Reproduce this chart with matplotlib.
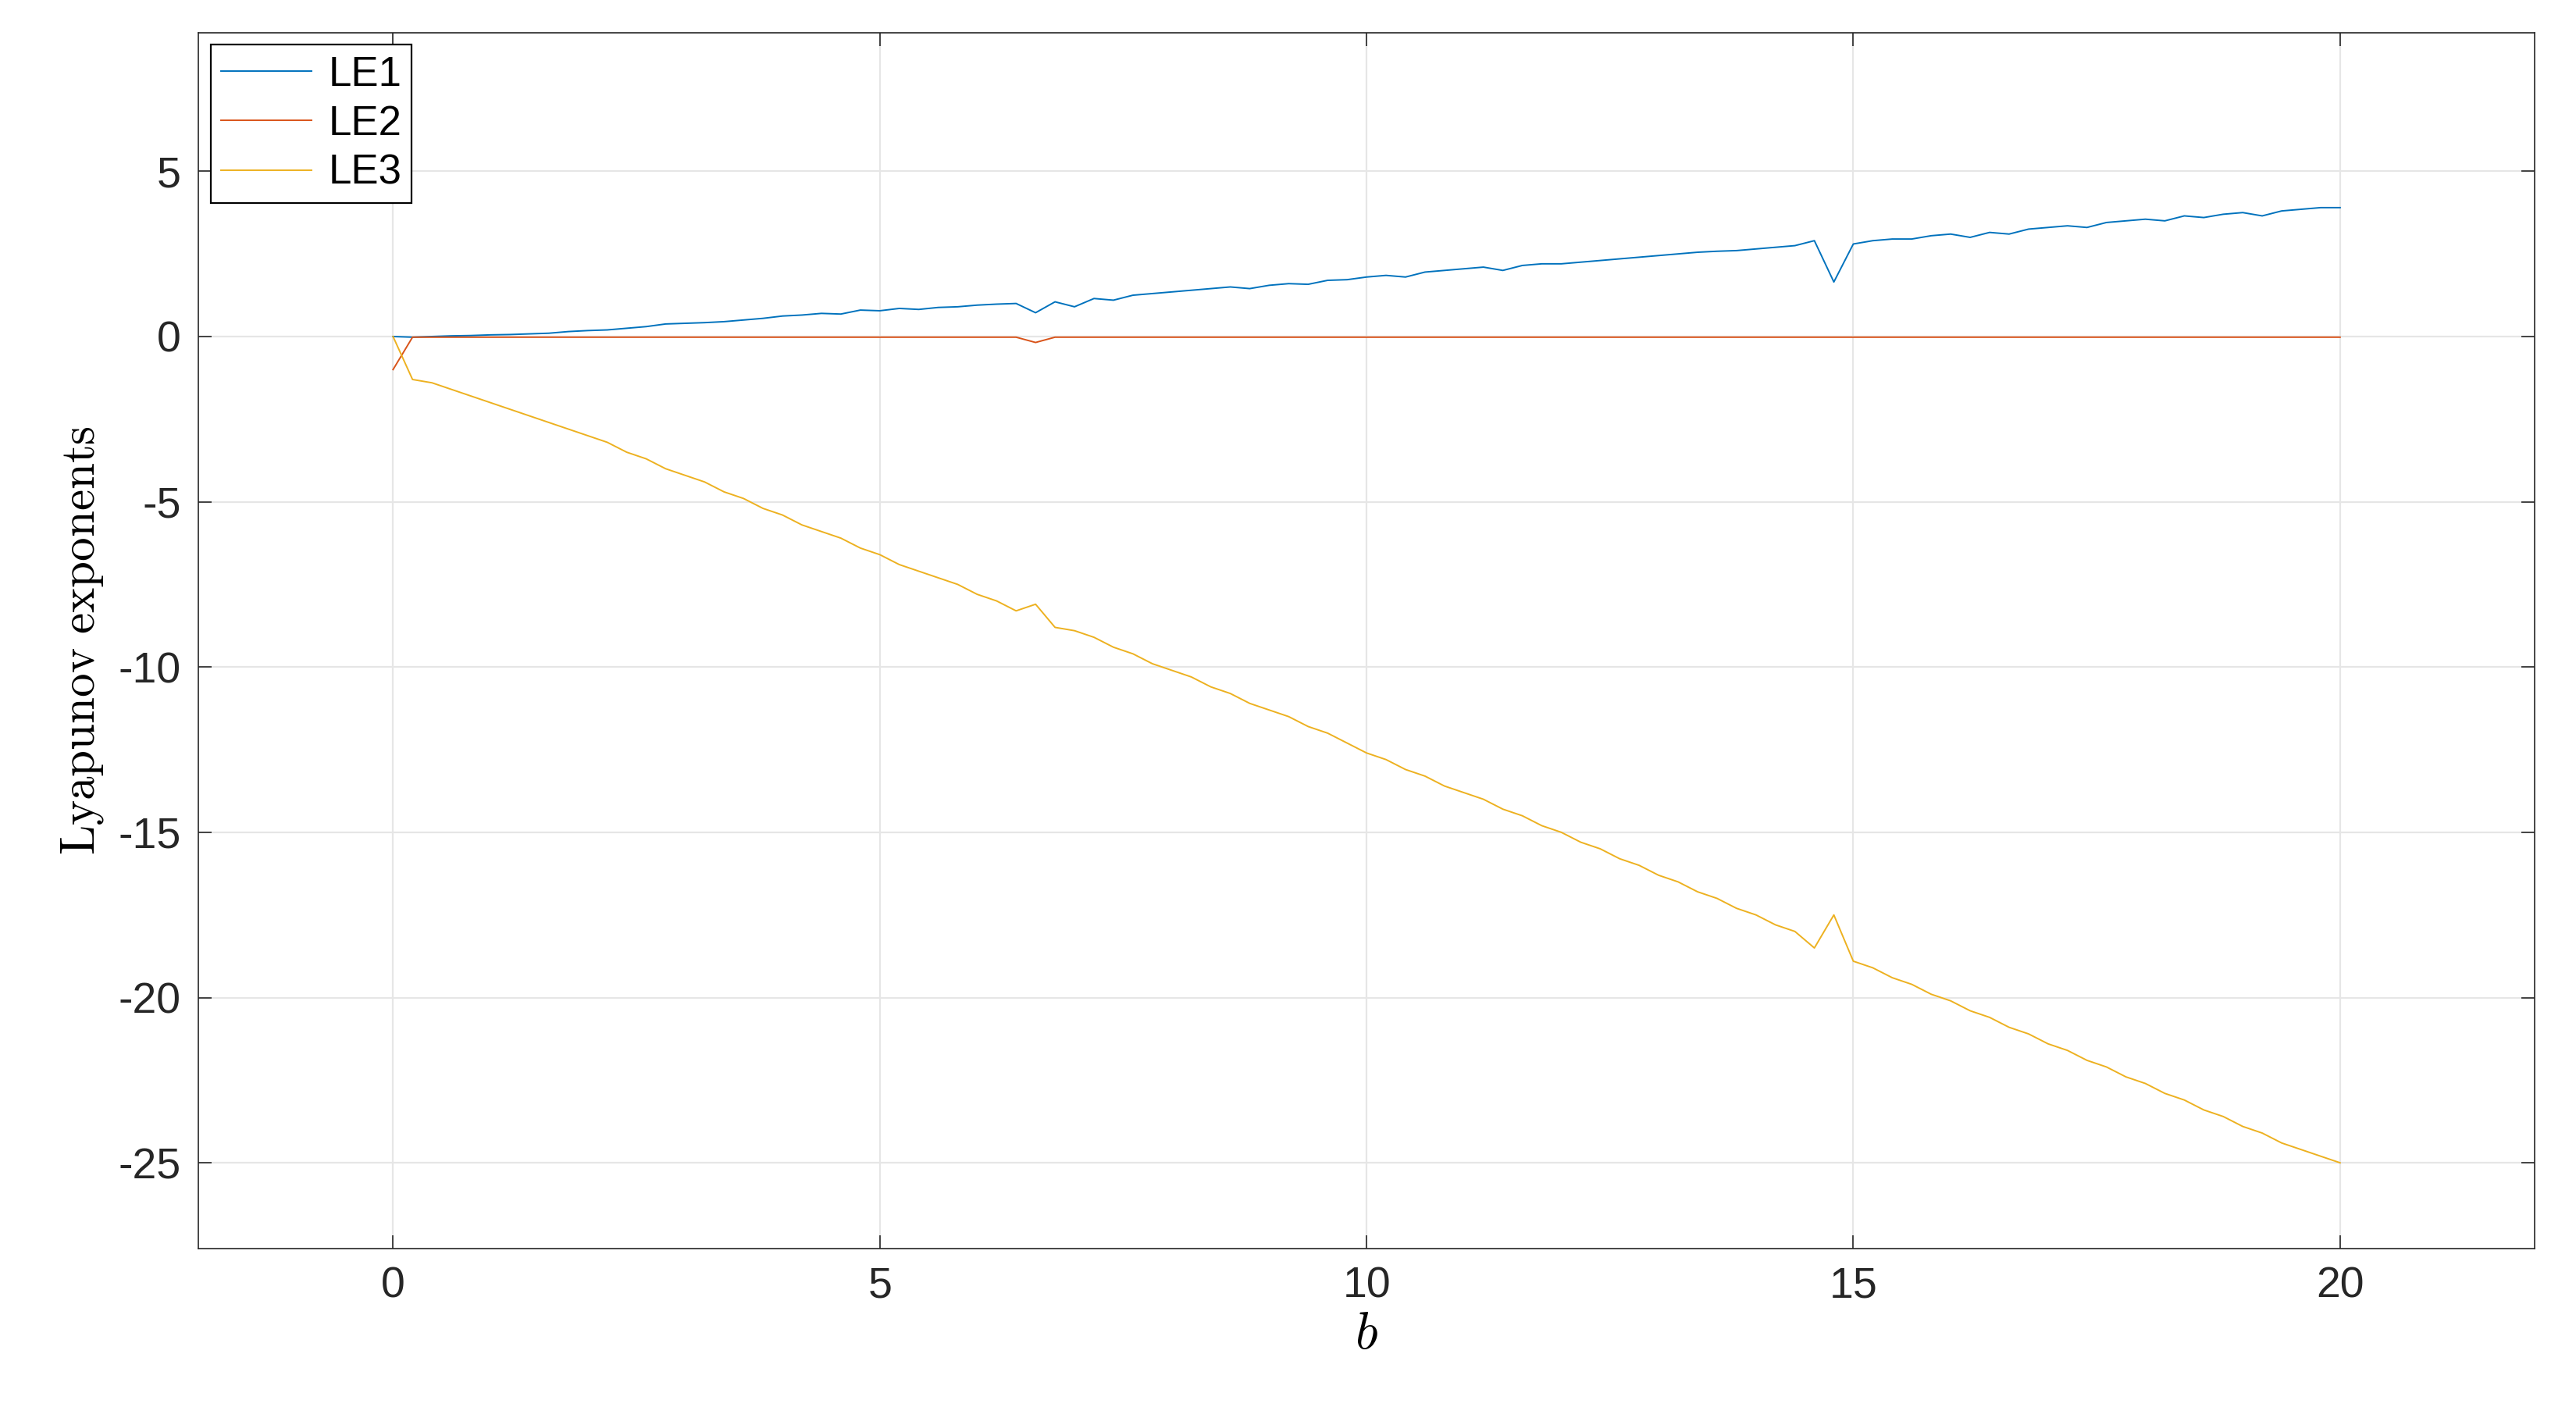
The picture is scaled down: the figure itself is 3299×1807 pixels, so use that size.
import numpy as np
import matplotlib
matplotlib.use("Agg")
import matplotlib.pyplot as plt

plt.rcParams['font.family'] = ['Liberation Sans', 'DejaVu Sans']
plt.rcParams['mathtext.fontset'] = 'cm'
plt.rcParams['axes.unicode_minus'] = False

b = np.round(np.arange(0, 20.0001, 0.2), 2)
le1 = [0, -0.02, 0.0, 0.02, 0.03, 0.05, 0.06, 0.08, 0.1, 0.15,
       0.18, 0.2, 0.25, 0.3, 0.38, 0.4, 0.42, 0.45, 0.5, 0.55,
       0.62, 0.65, 0.7, 0.68, 0.8, 0.78, 0.85, 0.82, 0.88, 0.9,
       0.95, 0.98, 1.0, 0.72, 1.05, 0.9, 1.15, 1.1, 1.25, 1.3,
       1.35, 1.4, 1.45, 1.5, 1.45, 1.55, 1.6, 1.58, 1.7, 1.72,
       1.8, 1.85, 1.8, 1.95, 2.0, 2.05, 2.1, 2.0, 2.15, 2.2,
       2.2, 2.25, 2.3, 2.35, 2.4, 2.45, 2.5, 2.55, 2.58, 2.6,
       2.65, 2.7, 2.75, 2.9, 1.65, 2.8, 2.9, 2.95, 2.95, 3.05,
       3.1, 3.0, 3.15, 3.1, 3.25, 3.3, 3.35, 3.3, 3.45, 3.5,
       3.55, 3.5, 3.65, 3.6, 3.7, 3.75, 3.65, 3.8, 3.85, 3.9, 3.9]
le2 = [-1.0] + [-0.02] * 32 + [-0.18] + [-0.02] * 67
le3 = [0, -1.3, -1.4, -1.6, -1.8, -2.0, -2.2, -2.4, -2.6, -2.8,
       -3.0, -3.2, -3.5, -3.7, -4.0, -4.2, -4.4, -4.7, -4.9, -5.2,
       -5.4, -5.7, -5.9, -6.1, -6.4, -6.6, -6.9, -7.1, -7.3, -7.5,
       -7.8, -8.0, -8.3, -8.1, -8.8, -8.9, -9.1, -9.4, -9.6, -9.9,
       -10.1, -10.3, -10.6, -10.8, -11.1, -11.3, -11.5, -11.8, -12.0, -12.3,
       -12.6, -12.8, -13.1, -13.3, -13.6, -13.8, -14.0, -14.3, -14.5, -14.8,
       -15.0, -15.3, -15.5, -15.8, -16.0, -16.3, -16.5, -16.8, -17.0, -17.3,
       -17.5, -17.8, -18.0, -18.5, -17.5, -18.9, -19.1, -19.4, -19.6, -19.9,
       -20.1, -20.4, -20.6, -20.9, -21.1, -21.4, -21.6, -21.9, -22.1, -22.4,
       -22.6, -22.9, -23.1, -23.4, -23.6, -23.9, -24.1, -24.4, -24.6, -24.8, -25.0]

fig = plt.figure(figsize=(16.495, 9.035), dpi=200)
ax = fig.add_axes([0.077, 0.115, 0.907, 0.862])
ax.plot(b, le1, color='#0072BD', lw=0.7, label='LE1')
ax.plot(b, le2, color='#D95319', lw=0.7, label='LE2')
ax.plot(b, le3, color='#EDB120', lw=0.7, label='LE3')
ax.set_xlim(-2, 22)
ax.set_ylim(-27.6, 9.2)
ax.set_xticks([0, 5, 10, 15, 20])
ax.set_yticks([-25, -20, -15, -10, -5, 0, 5])
ax.grid(True, color='#e6e6e6', lw=0.8)
ax.set_axisbelow(True)
ax.tick_params(direction='in', top=True, right=True, labelsize=20, length=6, width=0.6,
               colors='#262626', pad=8)
for s in ax.spines.values():
    s.set_linewidth(0.6)
    s.set_color('#262626')
ax.set_xlabel(r'$b$', fontsize=24, labelpad=2)
ax.set_ylabel(r'$\mathrm{Lyapunov\ exponents}$', fontsize=22, labelpad=6)
leg = ax.legend(loc='upper left', fontsize=19, fancybox=False, edgecolor='black',
                framealpha=1, borderaxespad=0.3, handlelength=2.2, handletextpad=0.4,
                labelspacing=0.25, borderpad=0.25)
leg.get_frame().set_linewidth(0.8)
fig.savefig('out.png', dpi=200)
